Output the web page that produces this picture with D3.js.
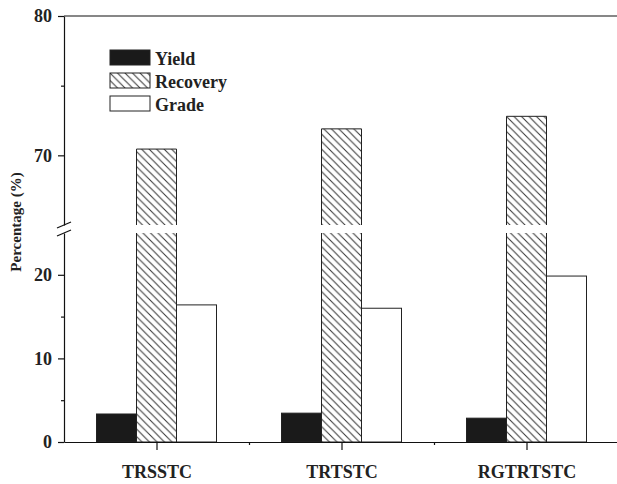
<!DOCTYPE html>
<html>
<head>
<meta charset="utf-8">
<script src="https://cdn.jsdelivr.net/npm/d3@7"></script>
<style>
  body { margin: 0; background: #fff; }
  svg { display: block; }
  text { font-family: "Liberation Serif", "Times New Roman", serif; font-weight: bold; fill: #222; }
</style>
</head>
<body>
<svg id="chart"></svg>
<script>
// data
const categories = ["TRSSTC", "TRTSTC", "RGTRTSTC"];
const series = ["Yield", "Recovery", "Grade"];
const yieldVals = [3.35, 3.45, 2.85];
const recoveryVals = [70.45, 71.9, 72.8];
const gradeVals = [16.4, 16.0, 19.85];
const lowerTicks = [0, 10, 20];
const lowerMinor = [5, 15];
const upperTicks = [70, 80];
const upperMinor = [75];

const W = 617, H = 484;
const svg = d3.select("#chart").attr("width", W).attr("height", H);

// pattern for the recovery bars
const defs = svg.append("defs");
const pat = defs.append("pattern")
    .attr("id", "hatch")
    .attr("patternUnits", "userSpaceOnUse")
    .attr("width", 7.5).attr("height", 7.5);
pat.append("rect").attr("width", 7.5).attr("height", 7.5).attr("fill", "#fff");
pat.append("path")
    .attr("d", "M0,0 L7.5,7.5 M-1,6.5 L1,8.5 M6.5,-1 L8.5,1")
    .attr("stroke", "#333").attr("stroke-width", 1);

const left = 64, right = 619;
const x = d3.scaleLinear().domain([0.5, 3.5]).range([left, right]);
const xs = d3.scaleBand().domain(series).range([-60, 60]);
// broken y axis: two scales
const yLow = d3.scaleLinear().domain([0, 25]).range([442, 233]);
const yUp = d3.scaleLinear().domain([65, 80]).range([225, 16]);

const fills = { Yield: "#1a1a1a", Recovery: "url(#hatch)", Grade: "#fff" };
const rows = [];
categories.forEach((c, i) => {
    rows.push({ s: "Yield", i: i, v: yieldVals[i] });
    rows.push({ s: "Recovery", i: i, v: recoveryVals[i] });
    rows.push({ s: "Grade", i: i, v: gradeVals[i] });
});

const bars = svg.append("g");
rows.forEach(d => {
    const bx = x(d.i + 1) + xs(d.s);
    const w = xs.bandwidth();
    if (d.v > 25) {
        // lower piece, open at the top
        const h = yLow(0) - yLow(25);
        bars.append("rect")
            .attr("x", bx).attr("width", w)
            .attr("y", yLow(25)).attr("height", h)
            .attr("fill", fills[d.s])
            .attr("stroke", "#222").attr("stroke-width", 1)
            .attr("stroke-dasharray", `0,${w},${2 * h + w}`);
        // upper piece, open at the bottom
        const h2 = yUp(65) - yUp(d.v);
        bars.append("rect")
            .attr("x", bx).attr("width", w)
            .attr("y", yUp(d.v)).attr("height", h2)
            .attr("fill", fills[d.s])
            .attr("stroke", "#222").attr("stroke-width", 1)
            .attr("stroke-dasharray", `${w + h2},${w},${h2}`);
    } else {
        bars.append("rect")
            .attr("x", bx).attr("width", w)
            .attr("y", yLow(d.v)).attr("height", yLow(0) - yLow(d.v))
            .attr("fill", fills[d.s])
            .attr("stroke", "#222").attr("stroke-width", 1);
    }
});

function styleAxis(g) {
    g.selectAll("path, line").attr("stroke", "#111").attr("stroke-width", 1.2);
    g.selectAll("text").attr("font-size", 18).attr("fill", "#222")
        .attr("font-family", "Liberation Serif, serif").attr("font-weight", "bold");
}

// y axes
[[yLow, lowerTicks, lowerMinor], [yUp, upperTicks, upperMinor]].forEach(([sc, maj, mn]) => {
    svg.append("g").attr("transform", `translate(${left},0)`)
        .call(d3.axisLeft(sc).tickValues(maj).tickSize(6).tickSizeOuter(0).tickPadding(6))
        .call(styleAxis);
    svg.append("g").attr("transform", `translate(${left},0)`)
        .call(d3.axisLeft(sc).tickValues(mn).tickSize(3).tickFormat(""))
        .call(g => g.select(".domain").remove())
        .call(styleAxis);
});

// break marks
const brk = svg.append("g").attr("stroke", "#111").attr("stroke-width", 1.2);
[yUp(65), yLow(25)].forEach(yy => {
    brk.append("line")
        .attr("x1", left - 7).attr("y1", yy + 3)
        .attr("x2", left + 7).attr("y2", yy - 3);
});

// x axis
const xAxis = svg.append("g").attr("transform", `translate(0,${yLow(0)})`)
    .call(d3.axisBottom(x).tickValues([1, 2, 3]).tickSize(8).tickSizeOuter(0)
        .tickFormat(d => categories[d - 1]))
    .call(styleAxis);
xAxis.selectAll("text").attr("y", 23);
svg.append("g").attr("transform", `translate(0,${yLow(0)})`)
    .call(d3.axisBottom(x).tickValues([1.5, 2.5]).tickSize(3).tickFormat(""))
    .call(g => g.select(".domain").remove())
    .call(styleAxis);

// top frame line
svg.append("line")
    .attr("x1", left).attr("x2", right)
    .attr("y1", yUp(80)).attr("y2", yUp(80))
    .attr("stroke", "#111").attr("stroke-width", 1.2);

// y title
svg.append("text")
    .attr("transform", "translate(21,222) rotate(-90)")
    .attr("text-anchor", "middle")
    .attr("font-size", 15)
    .text("Percentage (%)");

// legend
const legend = svg.append("g").attr("transform", "translate(110,50)");
series.forEach((s, i) => {
    const row = legend.append("g").attr("transform", `translate(0,${i * 23})`);
    row.append("rect").attr("width", 40).attr("height", 15)
        .attr("fill", fills[s]).attr("stroke", "#222").attr("stroke-width", 1);
    row.append("text").attr("x", 45).attr("y", 15)
        .attr("font-size", 18).text(s);
});
</script>
</body>
</html>
